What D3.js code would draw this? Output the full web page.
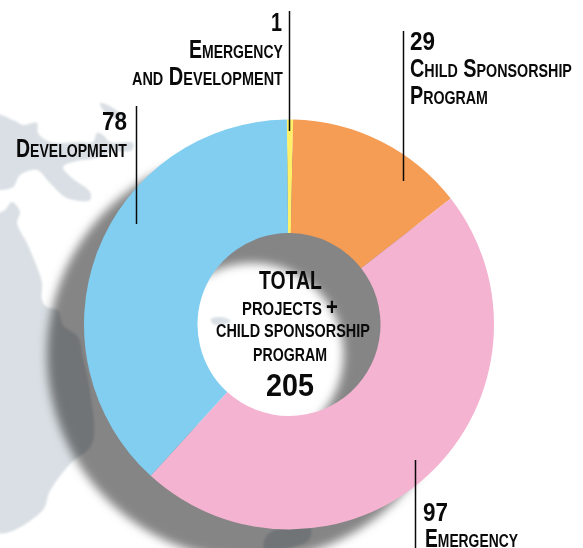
<!DOCTYPE html>
<html><head><meta charset="utf-8">
<script src="https://cdn.jsdelivr.net/npm/d3@7"></script>
<style>
html,body{margin:0;padding:0;background:#fff;overflow:hidden}
svg{display:block}
text{font-family:"Liberation Sans Narrow","Liberation Sans",sans-serif;font-weight:700;fill:#0a0a0a}
</style></head><body>
<script>
const categories = ["Emergency and Development","Child Sponsorship Program","Emergency","Development"];
const values = [1,29,97,78];
const colors = ["#fff06a","#f59c55","#f4b3d0","#82cef0"];
const totalValue = 205;

const W=583,H=548,cx=289,cy=324.5,R=205,r=91.5;
const svg=d3.select("body").append("svg").attr("width",W).attr("height",H);
const defs=svg.append("defs");
defs.append("filter").attr("id","sb").attr("x","-20%").attr("y","-20%").attr("width","140%").attr("height","140%")
  .append("feGaussianBlur").attr("stdDeviation",5);
defs.append("filter").attr("id","lb").append("feGaussianBlur").attr("stdDeviation",0.8);

// pale map behind the chart
const landTop=[[-5,115],[13,120],[23,125],[37,123],[38,133],[50,142],[80,142],[93,142],[97,133],[103,135],[110,142],[133,143],[132,150],[113,152],[97,158],[73,162],[63,167],[72,178],[90,192],[90,200],[67,198],[50,183],[37,170],[20,175],[13,187],[-5,188]];
const landIslet=[[100,103],[113,108],[124,118],[112,118],[103,110]];
const landLeft=[[-5,217],[5,210],[12,202],[20,212],[17,223],[27,243],[30,250],[37,267],[42,283],[42,300],[47,307],[58,310],[63,325],[78,337],[83,357],[90,390],[92,444],[70,464],[50,491],[42,511],[-5,532]];
const landHole=[[211,319],[220,317],[231,321],[222,325],[213,324]];
const landBottom=[[265,538],[275,530],[310,526],[309,540],[290,548],[265,552]];
const land=d3.line().curve(d3.curveCatmullRomClosed.alpha(0.5));
svg.append("g").attr("filter","url(#lb)").selectAll("path")
  .data([landTop,landIslet,landLeft,landHole,landBottom]).join("path")
  .attr("d",d=>land(d)).attr("fill","#d9dfe4");

// pie
const pie=d3.pie().sort(null).startAngle(-0.6*Math.PI/180).endAngle(2*Math.PI-0.6*Math.PI/180);
const arc=d3.arc().innerRadius(r).outerRadius(R);
const arcs=pie(values);
// drop shadow of the ring
svg.append("path")
  .attr("d",d3.arc().innerRadius(r).outerRadius(R).startAngle(0).endAngle(2*Math.PI)())
  .attr("transform",`translate(${cx-37},${cy+30})`)
  .attr("fill","#858585").attr("filter","url(#sb)").style("mix-blend-mode","multiply");
svg.append("g").attr("transform",`translate(${cx},${cy})`)
  .selectAll("path").data(arcs).join("path").attr("d",arc).attr("fill",(d,i)=>colors[i]);

// leader lines
const leaders=[[289.5,11,131],[136.5,106,224],[403.5,31,181],[415.5,460,548]];
svg.selectAll("line.l").data(leaders).join("line").attr("class","l")
  .attr("x1",d=>d[0]).attr("x2",d=>d[0]).attr("y1",d=>d[1]).attr("y2",d=>d[2])
  .attr("stroke","#0a0a0a").attr("stroke-width",1.5);

// text fitted to a measured box [x0,x1]
function fit(parts,x0,x1,y){
  const g=svg.append("g");
  const t=g.append("text");
  parts.forEach(p=>t.append("tspan").attr("font-size",p[1]).text(p[0]));
  const w=t.node().getComputedTextLength();
  g.attr("transform",`translate(${x0},${y}) scale(${(x1-x0)/w},1)`);
}
// small caps: capitals large, the rest small
function sc(s,big=25,small=18){
  const out=[];
  s.split(/(?<=[^A-Z ])(?=[A-Z ])|(?<=[A-Z ])(?=[^A-Z ])/).forEach(chunk=>{
    if(/^[A-Z ]+$/.test(chunk)) out.push([chunk,big]);
    else out.push([chunk.toUpperCase(),small]);
  });
  return out;
}
fit([[String(values[0]),25]],271,282,31);
fit(sc("Emergency"),189,283,58);
fit(sc("and Development".replace("and","and")),132,283,85);
fit([[String(values[3]),25]],102,127,130);
fit(sc("Development"),16,127,157);
fit([[String(values[1]),25]],410,435,50);
fit(sc("Child Sponsorship"),410,572,77);
fit(sc("Program"),410,488,104);
fit([[String(values[2]),25]],423,448,521);
fit(sc("Emergency"),425,518,547);
fit([["TOTAL",25]],259,322,289);
fit([["PROJECTS ",17.5],["+",24]],242,338,315);
fit([["CHILD SPONSORSHIP",17.5]],216,370,337);
fit([["PROGRAM",17.5]],253,327,361);
fit([[String(totalValue),31]],266,314,396);
</script>
</body></html>
